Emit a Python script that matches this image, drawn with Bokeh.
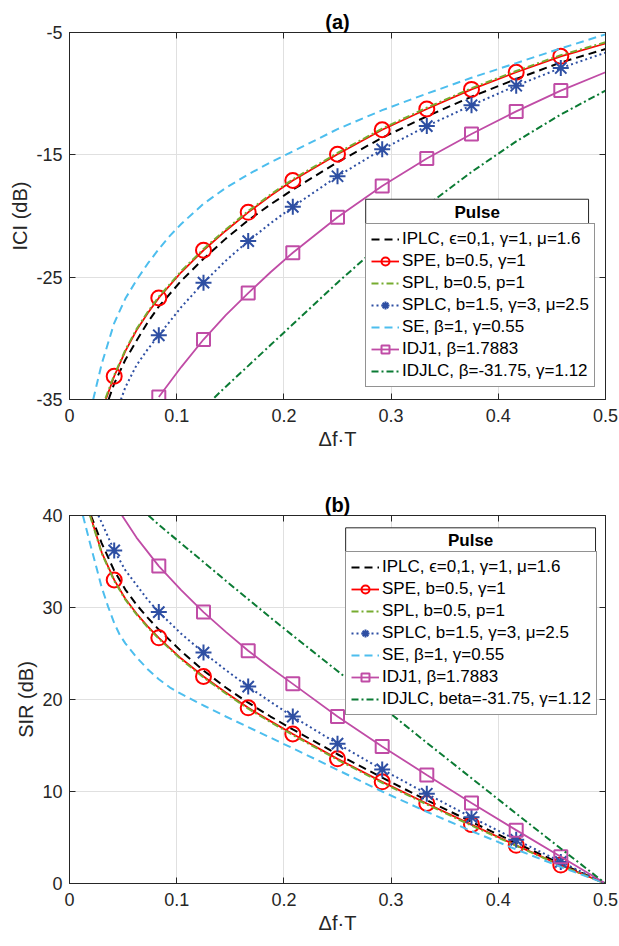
from bokeh.plotting import figure
from bokeh.layouts import column
from bokeh.models import (Legend, LegendItem, FixedTicker, LinearAxis, Range1d,
                          BoxAnnotation, Label)
from bokeh.embed import file_html
from bokeh.resources import INLINE

FONT = "Liberation Sans"

# ---------------- ticks ----------------
x_ticks = [0, 0.1, 0.2, 0.3, 0.4, 0.5]
x_tick_labels = ["0", "0.1", "0.2", "0.3", "0.4", "0.5"]
ici_ticks = [-35, -25, -15, -5]
ici_tick_labels = ["-35", "-25", "-15", "-5"]
sir_ticks = [0, 10, 20, 30, 40]
sir_tick_labels = ["0", "10", "20", "30", "40"]

# marker abscissae
marker_x = [0.0417, 0.0833, 0.125, 0.1667, 0.2083, 0.25, 0.2917, 0.3333, 0.375, 0.4167, 0.4583]

# ---------------- panel (a): ICI (dB) ----------------
ici_iplc_x = [0.0365, 0.0417, 0.0521, 0.0625, 0.0729, 0.0833, 0.1042, 0.125, 0.1458, 0.1667, 0.1875, 0.2083, 0.25, 0.2917, 0.3333, 0.375, 0.4167, 0.4583, 0.5]
ici_iplc = [-35, -33.7, -31.75, -30.2, -28.7, -27.4, -25.3, -23.5, -21.85, -20.35, -19.05, -17.85, -15.6, -13.6, -11.85, -10.25, -8.8, -7.45, -6.35]

ici_spe_x = [0.0339, 0.0417, 0.0521, 0.0625, 0.0729, 0.0833, 0.1042, 0.125, 0.1458, 0.1667, 0.1875, 0.2083, 0.25, 0.2917, 0.3333, 0.375, 0.4167, 0.4583, 0.5]
ici_spe = [-35, -33.1, -31.05, -29.35, -27.95, -26.7, -24.6, -22.8, -21.2, -19.7, -18.35, -17.1, -14.95, -12.95, -11.25, -9.65, -8.25, -6.95, -5.9]

ici_spl_x = [0.0336, 0.0417, 0.0521, 0.0625, 0.0729, 0.0833, 0.1042, 0.125, 0.1458, 0.1667, 0.1875, 0.2083, 0.25, 0.2917, 0.3333, 0.375, 0.4167, 0.4583, 0.5]
ici_spl = [-34.9, -33.0, -30.95, -29.25, -27.85, -26.6, -24.5, -22.7, -21.1, -19.6, -18.25, -17.0, -14.85, -12.85, -11.15, -9.55, -8.15, -6.85, -5.8]

ici_splc_x = [0.048, 0.0521, 0.0625, 0.0729, 0.0833, 0.1042, 0.125, 0.1458, 0.1667, 0.1875, 0.2083, 0.25, 0.2917, 0.3333, 0.375, 0.4167, 0.4583, 0.5]
ici_splc = [-35, -34.0, -32.2, -30.9, -29.75, -27.45, -25.45, -23.65, -22.05, -20.6, -19.25, -16.75, -14.55, -12.65, -10.95, -9.35, -7.9, -6.65]

ici_se_x = [0.0221, 0.03, 0.0417, 0.0521, 0.0625, 0.0729, 0.0833, 0.0938, 0.1042, 0.125, 0.1458, 0.1667, 0.1875, 0.2083, 0.25, 0.2917, 0.3333, 0.375, 0.4167, 0.4583, 0.5]
ici_se = [-35, -32.1, -28.75, -26.75, -25.25, -23.9, -22.7, -21.6, -20.65, -19.0, -17.7, -16.6, -15.62, -14.72, -12.9, -11.35, -10.0, -8.7, -7.5, -6.3, -5.15]

ici_idj1_x = [0.0833, 0.1042, 0.125, 0.1458, 0.1667, 0.1875, 0.2083, 0.25, 0.2917, 0.3333, 0.375, 0.4167, 0.4583, 0.5]
ici_idj1 = [-34.8, -32.35, -30.1, -28.1, -26.3, -24.6, -23.0, -20.1, -17.55, -15.3, -13.3, -11.45, -9.75, -8.25]

ici_idjlc_x = [0.125, 0.1458, 0.1667, 0.1875, 0.2083, 0.25, 0.2917, 0.3333, 0.375, 0.4167, 0.4583, 0.5]
ici_idjlc = [-35.7, -33.95, -32.25, -30.55, -28.85, -25.45, -22.2, -19.15, -16.4, -13.9, -11.7, -9.75]

# ---------------- panel (b): SIR (dB) ----------------
sir_iplc_x = [0.02, 0.03, 0.0417, 0.0521, 0.0625, 0.0729, 0.0833, 0.1042, 0.125, 0.1458, 0.1667, 0.1875, 0.2083, 0.25, 0.2917, 0.3333, 0.375, 0.4167, 0.4583, 0.5]
sir_iplc = [40, 37.0, 34.0, 31.95, 30.3, 28.9, 27.6, 25.25, 23.15, 21.3, 19.65, 18.15, 16.75, 14.05, 11.5, 9.05, 6.7, 4.4, 2.15, 0]

sir_spe_x = [0.0194, 0.03, 0.0417, 0.0521, 0.0625, 0.0729, 0.0833, 0.1042, 0.125, 0.1458, 0.1667, 0.1875, 0.2083, 0.25, 0.2917, 0.3333, 0.375, 0.4167, 0.4583, 0.5]
sir_spe = [40, 36.0, 33.0, 30.95, 29.35, 27.95, 26.7, 24.45, 22.5, 20.75, 19.1, 17.65, 16.25, 13.55, 11.05, 8.7, 6.4, 4.15, 2.0, 0]

sir_spl_x = [0.0191, 0.03, 0.0417, 0.0521, 0.0625, 0.0729, 0.0833, 0.1042, 0.125, 0.1458, 0.1667, 0.1875, 0.2083, 0.25, 0.2917, 0.3333, 0.375, 0.4167, 0.4583, 0.5]
sir_spl = [40, 35.9, 32.9, 30.85, 29.25, 27.85, 26.6, 24.35, 22.4, 20.65, 19.0, 17.55, 16.15, 13.45, 10.95, 8.6, 6.3, 4.1, 1.95, 0]

sir_splc_x = [0.027, 0.0417, 0.0521, 0.0625, 0.0729, 0.0833, 0.1042, 0.125, 0.1458, 0.1667, 0.1875, 0.2083, 0.25, 0.2917, 0.3333, 0.375, 0.4167, 0.4583, 0.5]
sir_splc = [40, 36.2, 34.05, 32.45, 30.85, 29.5, 27.15, 25.1, 23.2, 21.4, 19.75, 18.15, 15.2, 12.4, 9.75, 7.2, 4.75, 2.35, 0]

sir_se_x = [0.0125, 0.02, 0.03, 0.036, 0.0417, 0.047, 0.0521, 0.0625, 0.0729, 0.0833, 0.0938, 0.1042, 0.125, 0.1458, 0.1667, 0.1875, 0.2083, 0.25, 0.2917, 0.3333, 0.375, 0.4167, 0.4583, 0.5]
sir_se = [40, 36.6, 32.2, 30.1, 28.3, 27.0, 26.1, 24.6, 23.3, 22.2, 21.3, 20.6, 19.35, 18.15, 17.0, 15.85, 14.7, 12.35, 10.0, 7.8, 5.7, 3.7, 1.8, 0]

sir_idj1_x = [0.049, 0.0625, 0.0833, 0.1042, 0.125, 0.1458, 0.1667, 0.1875, 0.2083, 0.25, 0.2917, 0.3333, 0.375, 0.4167, 0.4583, 0.5]
sir_idj1 = [40, 37.6, 34.5, 31.9, 29.5, 27.35, 25.3, 23.45, 21.7, 18.15, 14.9, 11.8, 8.75, 5.8, 2.9, 0]

sir_idjlc_x = [0.0737, 0.0833, 0.1042, 0.125, 0.1458, 0.1667, 0.1875, 0.2083, 0.25, 0.2917, 0.3333, 0.375, 0.4167, 0.4583, 0.5]
sir_idjlc = [40, 39.0, 36.95, 34.95, 32.9, 30.9, 28.9, 26.95, 23.1, 19.2, 15.3, 11.45, 7.6, 3.8, 0]

legend_title = "Pulse"
labels_a = ["IPLC, ϵ=0,1, γ=1, μ=1.6", "SPE, b=0.5, γ=1", "SPL, b=0.5, p=1",
            "SPLC, b=1.5, γ=3, μ=2.5", "SE, β=1, γ=0.55", "IDJ1, β=1.7883",
            "IDJLC, β=-31.75, γ=1.12"]
labels_b = ["IPLC, ϵ=0,1, γ=1, μ=1.6", "SPE, b=0.5, γ=1", "SPL, b=0.5, p=1",
            "SPLC, b=1.5, γ=3, μ=2.5", "SE, β=1, γ=0.55", "IDJ1, β=1.7883",
            "IDJLC, beta=-31.75, γ=1.12"]

AX = "#262626"

# style per series: color, width, dash, marker
styles = [
    ("#000000", 2.0, "8 5", None),
    ("#ff0000", 1.8, "solid", "circle"),
    ("#77ac30", 2.0, "7 3 2 3", None),
    ("#2e4fa3", 2.0, "2 3", "asterisk"),
    ("#4dbeee", 2.0, "8 5", None),
    ("#c04ca6", 1.8, "solid", "square"),
    ("#0b7b34", 2.0, "7 3 2 3", None),
]
marker_size = {"circle": 15, "asterisk": 16, "square": 13}


def marks(xs, ys):
    lookup = dict(zip(xs, ys))
    mx = [x for x in marker_x if x in lookup]
    return mx, [lookup[x] for x in mx]


def make_fig(title, ylabel, yr, yticks, ylabels, height, btop, bbot):
    p = figure(width=619, height=height, x_range=Range1d(0, 0.5), y_range=Range1d(*yr),
               output_backend="svg", toolbar_location=None,
               min_border_left=69, min_border_right=14, min_border_top=btop,
               min_border_bottom=bbot)
    p.title.text = title
    p.title.align = "center"
    p.title.text_font = FONT
    p.title.text_font_size = "20px"
    p.title.text_font_style = "bold"
    p.title.text_color = "#000000"
    p.title.standoff = 0
    p.outline_line_color = AX
    p.outline_line_width = 1
    p.background_fill_color = "white"
    p.border_fill_color = "white"

    p.xaxis.ticker = FixedTicker(ticks=x_ticks)
    p.xaxis.major_label_overrides = dict(zip(x_ticks, x_tick_labels))
    p.yaxis.ticker = FixedTicker(ticks=yticks)
    p.yaxis.major_label_overrides = dict(zip(yticks, ylabels))
    p.xaxis.axis_label = "Δf·T"
    p.yaxis.axis_label = ylabel
    for ax in (p.xaxis[0], p.yaxis[0]):
        ax.major_tick_in = 6
        ax.major_tick_out = 0
        ax.minor_tick_line_color = None
        ax.axis_line_color = AX
        ax.major_tick_line_color = AX
        ax.major_label_text_font = FONT
        ax.major_label_text_font_size = "18px"
        ax.major_label_text_color = AX
        ax.axis_label_text_font = FONT
        ax.axis_label_text_font_size = "20px"
        ax.axis_label_text_font_style = "normal"
        ax.axis_label_text_color = AX
    p.xaxis.major_label_standoff = 9
    p.xaxis.axis_label_standoff = 3
    p.yaxis.major_label_standoff = 7
    p.yaxis.axis_label_standoff = 2

    # box ticks on top and right
    top = LinearAxis(ticker=FixedTicker(ticks=x_ticks), major_label_text_font_size="0px",
                     major_tick_in=6, major_tick_out=0, major_label_standoff=0,
                     minor_tick_line_color=None, axis_line_color=AX, major_tick_line_color=AX)
    top.major_label_overrides = {t: "" for t in x_ticks}
    right = LinearAxis(ticker=FixedTicker(ticks=yticks), major_label_text_font_size="0px",
                       major_tick_in=6, major_tick_out=0, major_label_standoff=0,
                       minor_tick_line_color=None, axis_line_color=AX, major_tick_line_color=AX)
    right.major_label_overrides = {t: "" for t in yticks}
    p.add_layout(top, "above")
    p.add_layout(right, "right")

    p.xgrid.ticker = FixedTicker(ticks=x_ticks)
    p.ygrid.ticker = FixedTicker(ticks=yticks)
    p.xgrid.grid_line_color = "#e0e0e0"
    p.ygrid.grid_line_color = "#e0e0e0"
    return p


def draw(p, series, labels, loc, head):
    items = []
    for (xs, ys), lab, (col, w, dash, mk) in zip(series, labels, styles):
        rs = [p.line(xs, ys, line_color=col, line_width=w, line_dash=dash)]
        if mk is not None:
            mx, my = marks(xs, ys)
            rs.append(p.scatter(mx, my, marker=mk, size=marker_size[mk], line_color=col,
                                line_width=2, fill_color=None))
        items.append(LegendItem(label=lab, renderers=rs))
    leg = Legend(items=items, location=loc)
    leg.label_text_font = FONT
    leg.label_text_font_size = "17px"
    leg.label_text_color = "#000000"
    leg.glyph_width = 28
    leg.glyph_height = 20
    leg.label_height = 20
    leg.label_standoff = 3
    leg.spacing = 2
    leg.padding = 5
    leg.margin = 0
    leg.border_line_color = AX
    leg.border_line_width = 1
    leg.background_fill_color = "white"
    leg.background_fill_alpha = 1.0
    p.add_layout(leg)
    # legend heading box (centred title "Pulse") sitting on top of the legend
    l, r, ybot, ytop, xt, yt = head
    p.add_layout(BoxAnnotation(left=l, right=r, top=ytop, bottom=ybot,
                               fill_color="white", fill_alpha=1.0,
                               line_color=AX, line_width=1, line_alpha=1.0))
    p.add_layout(Label(x=xt, y=yt, text=legend_title, text_align="center",
                       text_baseline="middle", text_font=FONT, text_font_size="17px",
                       text_font_style="bold", text_color="#000000"))


pa = make_fig("(a)", "ICI (dB)", (-35, -5), ici_ticks, ici_tick_labels, 470, 32, 71)
draw(pa, [(ici_iplc_x, ici_iplc), (ici_spe_x, ici_spe), (ici_spl_x, ici_spl),
          (ici_splc_x, ici_splc), (ici_se_x, ici_se), (ici_idj1_x, ici_idj1),
          (ici_idjlc_x, ici_idjlc)], labels_a, (296, 12),
     (0.2763, 0.4842, -20.74, -18.63, 0.3803, -19.69))

pb = make_fig("(b)", "SIR (dB)", (0, 40), sir_ticks, sir_tick_labels, 473, 45, 60)
draw(pb, [(sir_iplc_x, sir_iplc), (sir_spe_x, sir_spe), (sir_spl_x, sir_spl),
          (sir_splc_x, sir_splc), (sir_se_x, sir_se), (sir_idj1_x, sir_idj1),
          (sir_idjlc_x, sir_idjlc)], labels_b, (276, 168),
     (0.2576, 0.4907, 35.87, 38.66, 0.3742, 37.27))

layout = column(pa, pb, spacing=0)
open("out.html", "w").write(file_html(layout, INLINE))
